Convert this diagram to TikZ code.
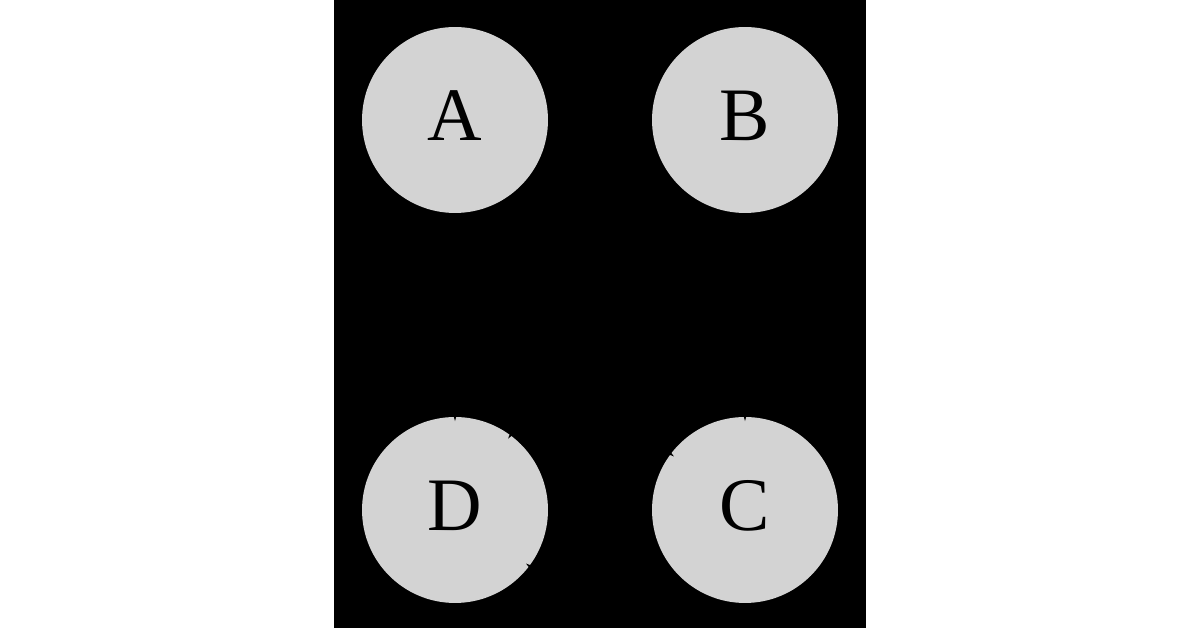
\documentclass[tikz,border=0pt]{standalone}
\usepackage{fontspec}
\setmainfont{Liberation Serif}
\usetikzlibrary{arrows.meta}
\definecolor{nodegray}{RGB}{211,211,211}
\tikzset{
	vertex/.style={circle, fill=nodegray, minimum size=3.72cm, inner sep=0pt, text depth=0.18cm, font=\fontsize{43}{50}\selectfont},
	link/.style={-{Stealth[length=9pt,width=5pt]}, thick, black, shorten >=-2.5pt}
}
\begin{document}
\begin{tikzpicture}[x=0.02cm, y=0.02cm]
	
	\useasboundingbox (0,0) rectangle (1200,628);
	\fill [white] (0,0) rectangle (1200,628);
	\fill [black] (334,0) rectangle (866,628);
	
	\node [vertex] (A) at (455,508) {A};
	\node [vertex] (B) at (745,508) {B};
	\node [vertex] (C) at (745,118) {C};
	\node [vertex] (D) at (455,118) {D};
	
	\draw [link] (A) -- (D);
	\draw [link] (B) -- (C);
	\draw [link] (B) -- (D);
	\draw [link] (D) to [bend left=37] (C);
	\draw [link] (C) to [bend left=37] (D);
	
\end{tikzpicture}
\end{document}
